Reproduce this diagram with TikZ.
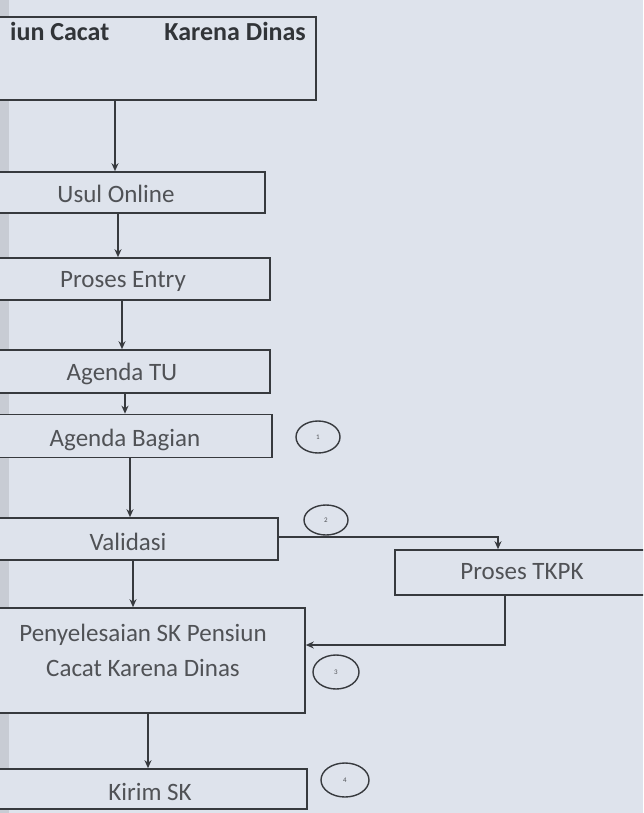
\documentclass[tikz,border=0pt]{standalone}
\usepackage{fontspec}
\setmainfont{Carlito}
\usetikzlibrary{arrows.meta,calc,shapes.geometric}
\definecolor{bg}{RGB}{222,227,236}
\definecolor{bgl}{RGB}{200,204,212}
\definecolor{ln}{RGB}{55,58,62}
\definecolor{tx}{RGB}{80,82,86}
\tikzset{
  box/.style={draw=ln, line width=1.6pt, fill=bg, inner sep=0pt},
  lbl/.style={text=tx, font=\fontsize{25}{30}\selectfont, inner sep=0pt},
  toplbl/.style={text=ln!90!black, font=\bfseries\fontsize{26}{30}\selectfont, inner sep=0pt},
  num/.style={draw=ln, line width=1.4pt, ellipse, minimum width=44pt, minimum height=32pt, inner sep=0pt, font=\fontsize{7}{7}\selectfont, text=tx},
  arr/.style={draw=ln, line width=1.5pt, -{Stealth[length=8pt,width=7pt]}},
}
\begin{document}
\begin{tikzpicture}[x=1pt,y=-1pt]
\useasboundingbox (0,0) rectangle (643,813);
\clip (0,0) rectangle (643,813);
\fill[bg] (0,0) rectangle (643,813);
\fill[bgl] (0,0) rectangle (9,813);
% boxes
\node[box, minimum width=360pt, minimum height=83pt] (top) at (136,58.5) {};
\node[toplbl, anchor=west] (toptxtA) at (10,31) {iun Cacat};
\node[toplbl, anchor=east] (toptxtB) at (306,31) {Karena Dinas};
\node[box, minimum width=300pt, minimum height=41pt] (usul) at (115,192.5) {};
\node[lbl] (usultxt) at (116,194) {Usul Online};
\node[box, minimum width=296pt, minimum height=42pt] (entry) at (122,279) {};
\node[lbl] (entrytxt) at (123,281) {Proses Entry};
\node[box, minimum width=296pt, minimum height=43pt] (tu) at (122,371.5) {};
\node[box, minimum width=300pt, minimum height=43pt] (bagian) at (122,436) {};
\node[box, minimum width=284pt, minimum height=42pt] (valid) at (136,539) {};
\node[lbl] (validtxt) at (128,542) {Validasi};
\node[box, minimum width=265pt, minimum height=45pt] (tkpk) at (527.5,572.5) {};
\node[lbl] (tkpktxt) at (522,572) {Proses TKPK};
\node[box, minimum width=330pt, minimum height=105pt] (penyel) at (140,660.5) {};
\node[lbl, align=center, font=\fontsize{25}{35}\selectfont] (penyeltxt) at (143,650) {Penyelesaian SK Pensiun\\Cacat Karena Dinas};
\node[box, minimum width=318pt, minimum height=40pt] (kirim) at (148,789) {};
\node[lbl] (kirimtxt) at (150,792) {Kirim SK};
% circles
\node[num] (c1) at (318,437) {1};
\node[num, minimum width=44pt, minimum height=30pt] (c2) at (326,520) {2};
\node[num, minimum width=46pt, minimum height=34pt] (c3) at (336,672) {3};
\node[num, minimum width=48pt, minimum height=34pt] (c4) at (345,780) {4};
% connectors
\draw[arr] (115,0 |- top.south) -- (115,0 |- usul.north);
\draw[arr] (118,0 |- usul.south) -- (118,0 |- entry.north);
\draw[arr] (122,0 |- entry.south) -- (122,0 |- tu.north);
\draw[arr] (125,0 |- tu.south) -- (125,0 |- bagian.north);
\draw[arr] (130,0 |- bagian.south) -- (130,0 |- valid.north);
\draw[arr] (133,0 |- valid.south) -- (133,0 |- penyel.north);
\draw[arr] (148,0 |- penyel.south) -- (148,0 |- kirim.north);
\draw[arr] (0,537 -| valid.east) -| (498,0 |- tkpk.north);
\draw[arr] (505,0 |- tkpk.south) |- (0,645 -| penyel.east);
% texts drawn over the arrow in Agenda TU
\node[lbl] (tutxt) at (122,374) {Agenda TU};
\node[lbl] (bagiantxt) at (125,440) {Agenda Bagian};
\end{tikzpicture}
\end{document}
